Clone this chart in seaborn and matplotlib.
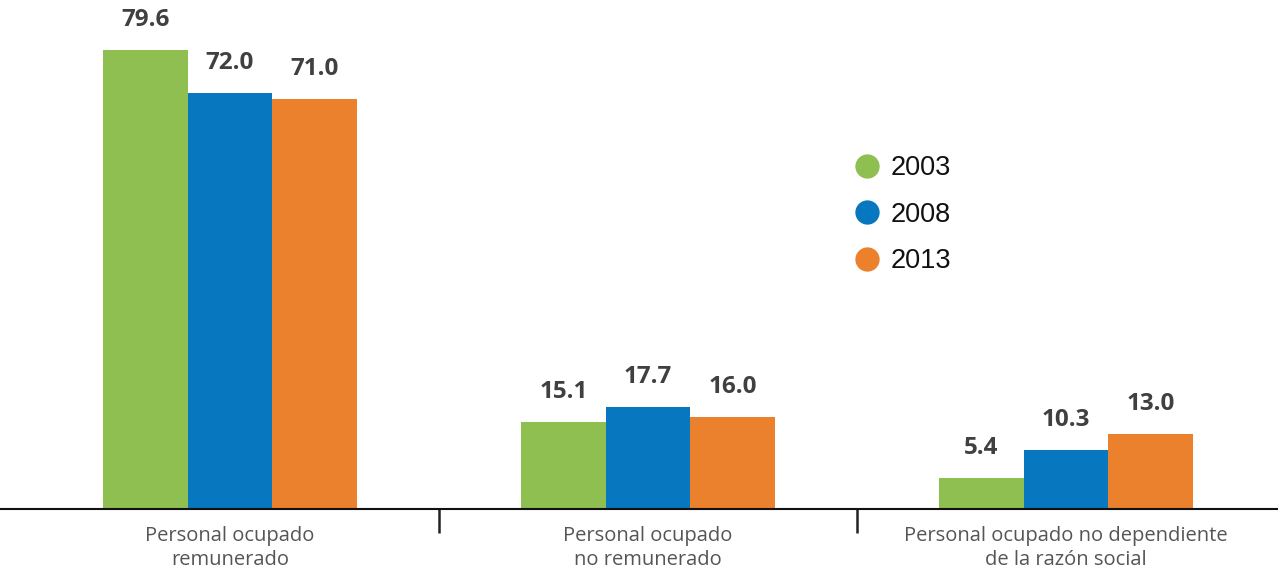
import pandas as pd
import matplotlib.pyplot as plt
import seaborn as sns
from matplotlib.lines import Line2D

categories = ["Personal ocupado\nremunerado",
              "Personal ocupado\nno remunerado",
              "Personal ocupado no dependiente\nde la razón social"]
years = ["2003", "2008", "2013"]
v2003 = [79.6, 15.1, 5.4]
v2008 = [72.0, 17.7, 10.3]
v2013 = [71.0, 16.0, 13.0]
colors = ["#8fbf50", "#0778bf", "#ec812d"]

df = pd.DataFrame({
    "categoria": categories * 3,
    "anio": [y for y in years for _ in categories],
    "valor": v2003 + v2008 + v2013,
})

sns.set_style("white")
plt.rcParams['font.family'] = ['Open Sans', 'DejaVu Sans']

fig = plt.figure(figsize=(12.78, 5.70), dpi=100)
ax = fig.add_axes([0, 61 / 570, 1, 509 / 570])
sns.barplot(data=df, x="categoria", y="valor", hue="anio", hue_order=years,
            palette=colors, width=0.607, gap=0, saturation=1, linewidth=0,
            legend=False, ax=ax)

for cont in ax.containers:
    ax.bar_label(cont, fmt="%.1f", padding=13, fontsize=17.5, fontweight="bold",
                 color="#404040")

ax.set_xlim(-0.55, 2.507)
ax.set_ylim(0, 88.2)
ax.set_xlabel("")
ax.set_ylabel("")
ax.set_yticks([])
for s in ["top", "right", "left"]:
    ax.spines[s].set_visible(False)
ax.spines["bottom"].set_color("#111111")
ax.spines["bottom"].set_linewidth(1.5)

ax.tick_params(axis="x", which="major", bottom=True, length=0, pad=12,
               labelsize=14.5, labelcolor="#555555")
for lab in ax.get_xticklabels():
    lab.set_linespacing(1.3)
ax.set_xticks([0.5, 1.5], minor=True)
ax.tick_params(axis="x", which="minor", bottom=True, length=17, width=1.8,
               color="#222222", direction="out")

handles = [Line2D([], [], marker="o", linestyle="", markersize=17.5,
                  markerfacecolor=c, markeredgewidth=0) for c in colors]
leg = ax.legend(handles, years, loc="upper left",
                bbox_to_anchor=(826 / 1278, 1 - 131 / 570),
                bbox_transform=fig.transFigure, frameon=False,
                prop={"family": "Liberation Sans", "size": 19.5},
                handlelength=1.2, handletextpad=0.3, labelspacing=0.75)
for t in leg.get_texts():
    t.set_color("#111111")

fig.savefig("out.png", dpi=100)
